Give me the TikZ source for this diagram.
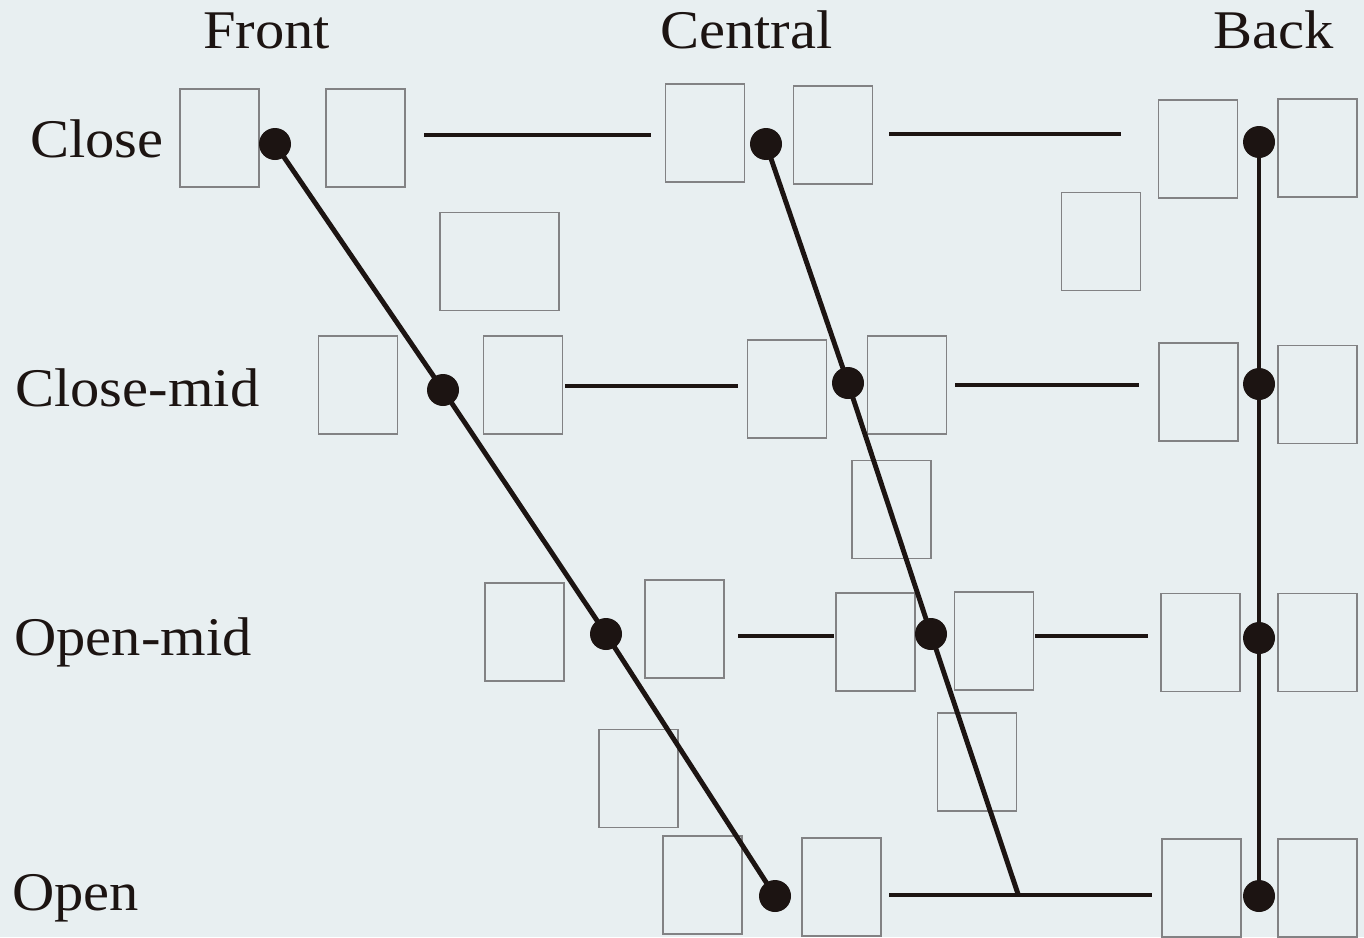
\documentclass[tikz,border=0pt]{standalone}
\usepackage{fontspec}
\setmainfont{Liberation Serif}[FakeStretch=1.075]
\definecolor{bgc}{RGB}{232,239,241}
\definecolor{boxc}{RGB}{130,130,132}
\definecolor{ink}{RGB}{28,20,18}
\begin{document}
\begin{tikzpicture}[x=0.02cm,y=-0.02cm,
  vbox/.style={draw=boxc,line width=0.7pt,minimum width=1.58cm,minimum height=1.96cm,inner sep=0pt},
  wbox/.style={vbox,minimum width=2.38cm},
  dot/.style={circle,fill=ink,inner sep=0pt,minimum size=0.64cm},
  ln/.style={draw=ink,line width=2.8pt},
  lab/.style={anchor=base west,inner sep=0pt,text=ink,font=\fontsize{31}{36}\selectfont}]
\fill[bgc] (0,0) rectangle (1364,937);
\useasboundingbox (0,0) rectangle (1364,937);
% labels
\node[lab] (hF) at (203,48) {Front};
\node[lab] (hC) at (660,48) {Central};
\node[lab] (hB) at (1213,48) {Back};
\node[lab] (lC) at (30,157) {Close};
\node[lab] (lCM) at (15,406) {Close-mid};
\node[lab] (lOM) at (14,655) {Open-mid};
\node[lab] (lO) at (12,910) {Open};
% boxes
\node[vbox] (b1) at (219.5,138) {};
\node[vbox] (b2) at (365.5,138) {};
\node[vbox] (b3) at (705,133) {};
\node[vbox] (b4) at (833,135) {};
\node[vbox] (b5) at (1198,149) {};
\node[vbox] (b6) at (1317.5,148) {};
\node[wbox] (b7) at (499.5,261.5) {};
\node[vbox] (b8) at (1101,241.5) {};
\node[vbox] (b9) at (358,385) {};
\node[vbox] (b10) at (523,385) {};
\node[vbox] (b11) at (787,389) {};
\node[vbox] (b12) at (907,385) {};
\node[vbox] (b13) at (1198.5,392) {};
\node[vbox] (b14) at (1317.5,394.5) {};
\node[vbox] (b15) at (891.5,509.5) {};
\node[vbox] (b16) at (524.5,632) {};
\node[vbox] (b17) at (684.5,629) {};
\node[vbox] (b18) at (875.5,642) {};
\node[vbox] (b19) at (994,641) {};
\node[vbox] (b20) at (1200.5,642.5) {};
\node[vbox] (b21) at (1317.5,642.5) {};
\node[vbox] (b22) at (638.5,778.5) {};
\node[vbox] (b23) at (977,762) {};
\node[vbox] (b24) at (702.5,885) {};
\node[vbox] (b25) at (841.5,887) {};
\node[vbox] (b26) at (1201.5,888) {};
\node[vbox] (b27) at (1317.5,888) {};
% dot positions
\coordinate (f1) at (275,144);
\coordinate (f2) at (443,390);
\coordinate (f3) at (606,634);
\coordinate (f4) at (775,896);
\coordinate (c1) at (766,144);
\coordinate (c2) at (848,383);
\coordinate (c3) at (931,634);
\coordinate (c4) at (1018,894);
\coordinate (k1) at (1259,142);
\coordinate (k2) at (1259,384);
\coordinate (k3) at (1259,638);
\coordinate (k4) at (1259,896);
% horizontal segment ends
\coordinate (h1a) at (424,135); \coordinate (h1b) at (651,135);
\coordinate (h2a) at (889,134); \coordinate (h2b) at (1121,134);
\coordinate (h3a) at (565,386); \coordinate (h3b) at (738,386);
\coordinate (h4a) at (955,385); \coordinate (h4b) at (1139,385);
\coordinate (h5a) at (738,636); \coordinate (h5b) at (834,636);
\coordinate (h6a) at (1035,636); \coordinate (h6b) at (1148,636);
\coordinate (h7a) at (889,895); \coordinate (h7b) at (1152,895);
% lines
\draw[ln] (f1) -- (f2) -- (f3) -- (f4);
\draw[ln] (c1) -- (c2) -- (c3) -- (c4);
\draw[ln] (k1) -- (k2) -- (k3) -- (k4);
\foreach \i in {1,...,7} {\draw[ln] (h\i a) -- (h\i b);}
% dots
\foreach \p in {f1,f2,f3,f4,c1,c2,c3,k1,k2,k3,k4} {\node[dot] (d\p) at (\p) {};}
\end{tikzpicture}
\end{document}
